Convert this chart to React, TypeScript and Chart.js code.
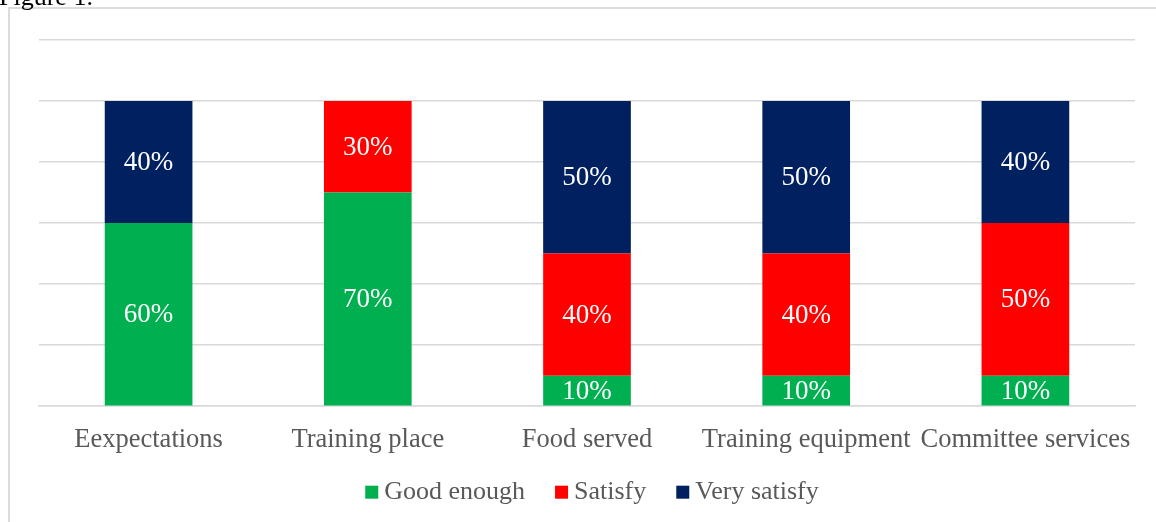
import React, { useEffect, useRef } from "react";
import { Chart, registerables } from "chart.js";

Chart.register(...registerables);

const categories = ["Eexpectations", "Training place", "Food served", "Training equipment", "Committee services"];
const goodEnough = [60, 70, 10, 10, 10];
const satisfy = [0, 30, 40, 40, 50];
const verySatisfy = [40, 0, 50, 50, 40];
const seriesNames = ["Good enough", "Satisfy", "Very satisfy"];
const seriesColors = ["#00B050", "#FF0000", "#002060"];
const yTicks = [0, 20, 40, 60, 80, 100, 120];

const FONT = "'Liberation Serif', 'Times New Roman', serif";

const dataLabelPlugin = {
  id: "dataLabels",
  afterDatasetsDraw(chart: any) {
    const ctx = chart.ctx;
    ctx.save();
    ctx.font = `27px ${FONT}`;
    ctx.fillStyle = "#FFFFFF";
    ctx.textAlign = "center";
    ctx.textBaseline = "middle";
    chart.data.datasets.forEach((ds: any, i: number) => {
      const meta = chart.getDatasetMeta(i);
      meta.data.forEach((el: any, j: number) => {
        const v = ds.data[j];
        if (!v) return;
        const cy = (el.y + el.base) / 2;
        ctx.fillText(`${v}%`, el.x, cy + 1);
      });
    });
    ctx.restore();
  },
};

const legendPlugin = {
  id: "customLegend",
  afterDraw(chart: any) {
    const ctx = chart.ctx;
    ctx.save();
    ctx.font = `26px ${FONT}`;
    ctx.textBaseline = "middle";
    ctx.textAlign = "left";
    const box = 13;
    const gap = 6;
    const itemGap = 30;
    const items = chart.data.datasets.map((ds: any) => ({
      label: ds.label,
      color: ds.backgroundColor,
      w: ctx.measureText(ds.label).width,
    }));
    const total = items.reduce((s: number, it: any) => s + box + gap + it.w, 0) + itemGap * (items.length - 1);
    const cx = (chart.chartArea.left + chart.chartArea.right) / 2 + 5;
    let x = cx - total / 2;
    const y = chart.chartArea.bottom + 86;
    items.forEach((it: any) => {
      ctx.fillStyle = it.color;
      ctx.fillRect(x, y - box / 2, box, box);
      x += box + gap;
      ctx.fillStyle = "#595959";
      ctx.fillText(it.label, x, y);
      x += it.w + itemGap;
    });
    ctx.restore();
  },
};

export default function App() {
  const ref = useRef<HTMLCanvasElement | null>(null);
  useEffect(() => {
    if (!ref.current) return;
    Chart.defaults.font.family = FONT;
    const seriesData = [goodEnough, satisfy, verySatisfy];
    const chart = new Chart(ref.current, {
      type: "bar",
      data: {
        labels: categories,
        datasets: seriesNames.map((name, i) => ({
          label: name,
          data: seriesData[i],
          backgroundColor: seriesColors[i],
          borderWidth: 0,
          categoryPercentage: 1,
          barPercentage: 0.4,
        })),
      },
      options: {
        animation: false,
        responsive: false,
        maintainAspectRatio: false,
        layout: { padding: { left: 39, right: 21, top: 40, bottom: 56 } },
        plugins: {
          legend: { display: false },
          tooltip: { enabled: false },
        },
        scales: {
          x: {
            stacked: true,
            grid: { display: false },
            border: { display: true, color: "#d9d9d9", width: 1.5 },
            ticks: {
              color: "#595959",
              font: { size: 26.5, family: FONT },
              padding: 10,
              autoSkip: false,
              maxRotation: 0,
              minRotation: 0,
            },
          },
          y: {
            stacked: true,
            min: yTicks[0],
            max: yTicks[yTicks.length - 1],
            afterBuildTicks: (scale: any) => {
              scale.ticks = yTicks.map((v) => ({ value: v }));
            },
            ticks: { display: false },
            grid: { color: "#d9d9d9", lineWidth: 1.5, drawTicks: false },
            border: { display: false },
          },
        },
      },
      plugins: [dataLabelPlugin, legendPlugin],
    });
    return () => chart.destroy();
  }, []);

  return (
    <div>
      <div
        style={{
          position: "fixed",
          left: 8,
          top: 7,
          width: 1300,
          height: 700,
          border: "2px solid #dcdcdc",
          background: "#fff",
        }}
      />
      <div
        style={{
          position: "fixed",
          left: -1,
          top: -18,
          fontFamily: FONT,
          fontSize: 26,
          color: "#000",
          whiteSpace: "nowrap",
          lineHeight: "30px",
        }}
      >
        Figure 1.
      </div>
      <canvas
        ref={ref}
        width={1156}
        height={522}
        style={{ position: "fixed", left: 0, top: 0, width: 1156, height: 522 }}
      />
    </div>
  );
}
